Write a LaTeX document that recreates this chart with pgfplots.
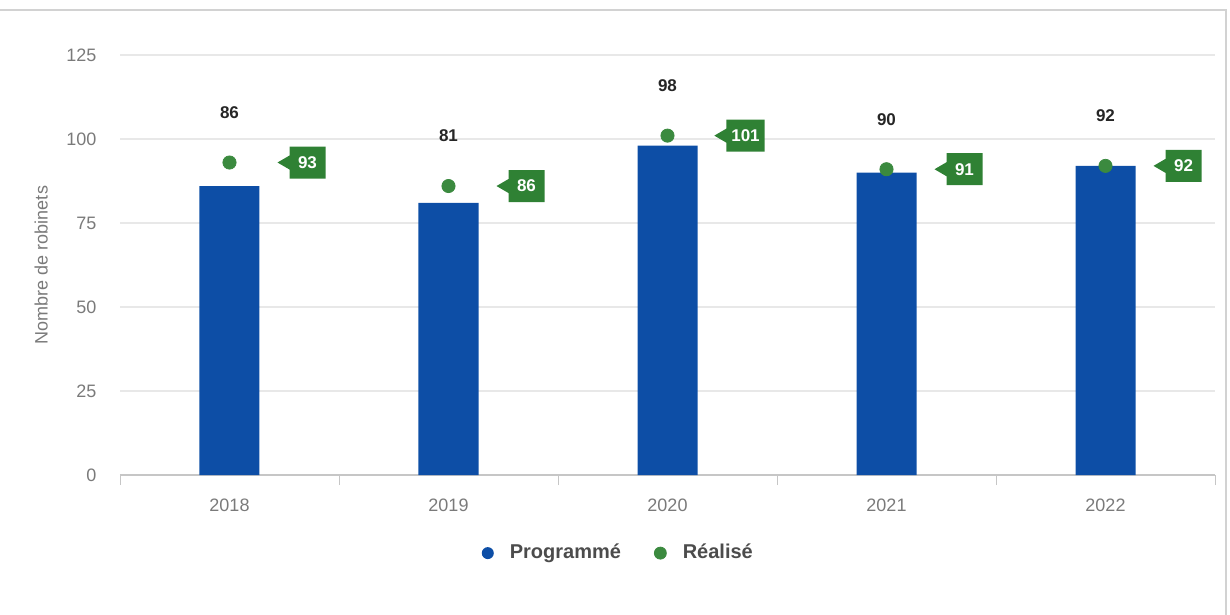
\documentclass[border=0pt]{standalone}
\usepackage{pgfplots}
\pgfplotsset{compat=1.18}
\usepackage{pgfplotstable}
\usepackage{fontspec}
\setmainfont{Liberation Sans}
\usetikzlibrary{shapes.callouts}

\definecolor{progblue}{HTML}{0D4EA6}
\definecolor{realgreen}{HTML}{3B8A3F}
\definecolor{calloutgreen}{HTML}{2F8134}
\definecolor{ticktxt}{HTML}{7A7A7A}
\definecolor{gridc}{HTML}{E8E8E8}

\pgfplotstableread{
x prog real
0 86 93
1 81 86
2 98 101
3 90 91
4 92 92
}\robinets

\begin{document}
\begin{tikzpicture}
\useasboundingbox (-60pt,-70pt) rectangle (555pt,237.5pt);
\draw[gray!35, line width=0.6pt] (-60pt,232.5pt) -- (553pt,232.5pt) -- (553pt,-70pt);
\begin{axis}[
  at={(0,0)}, anchor=south west,
  scale only axis, width=547.5pt, height=210pt,
  xmin=-0.5, xmax=4.5, ymin=0, ymax=125,
  xtick={0,1,2,3,4}, xticklabels={2018,2019,2020,2021,2022},
  major x tick style={draw=none},
  minor xtick={-0.5,0.5,1.5,2.5,3.5,4.5},
  minor tick length=5pt,
  minor x tick style={draw=gray!45},
  tick align=outside,
  ytick={0,25,50,75,100,125},
  ymajorgrids, grid style={gridc, line width=0.6pt},
  axis x line*=bottom, axis y line*=left,
  x axis line style={draw=gray!45, line width=0.6pt},
  y axis line style={draw=none},
  ytick style={draw=none},
  tick label style={font=\fontsize{9}{10}\selectfont, text=ticktxt},
  /pgf/number format/assume math mode=true,
  yticklabel style={xshift=-4pt},
  xticklabel style={yshift=-4pt},
  ylabel={Nombre de robinets},
  ylabel style={font=\fontsize{9}{10}\selectfont, text=ticktxt,
    at={(axis description cs:-0.072,0.5)}, anchor=center},
  legend style={at={(0.456,-0.186)}, anchor=center, draw=none,
    legend columns=2, font=\fontsize{10}{12}\selectfont\bfseries, text=black!70,
    /tikz/every even column/.append style={column sep=14.5pt}},
  legend cell align=left,
  clip=false,
]
\addplot[ybar, bar width=30pt, fill=progblue, draw=none, bar shift=0pt,
  legend image code/.code={\fill[progblue] (0pt,0) circle (3pt); \path (9pt,0);}]
  table[x=x, y=prog] {\robinets};
\addlegendentry{Programmé}
\addplot[only marks, mark=*, mark size=3.3pt, color=realgreen,
  nodes near coords,
  point meta=explicit,
  every node near coord/.style={rectangle callout, fill=calloutgreen, text=white,
    font=\fontsize{8.5}{10}\selectfont\bfseries, anchor=center, xshift=39pt,
    inner sep=2.5pt, minimum height=16pt, minimum width=18pt,
    callout relative pointer={(-6pt,0pt)}, callout pointer width=7pt},
  legend image code/.code={\fill[realgreen] (0pt,0) circle (3pt); \path (9pt,0);}]
  table[x=x, y=real, meta=real] {\robinets};
\addlegendentry{Réalisé}
\addplot[only marks, mark=none, forget plot,
  nodes near coords, point meta=explicit,
  every node near coord/.style={font=\fontsize{8.5}{10}\selectfont\bfseries, text=black!85,
    anchor=center, yshift=25pt}]
  table[x=x, y=real, meta=prog] {\robinets};
\end{axis}
\end{tikzpicture}
\end{document}
